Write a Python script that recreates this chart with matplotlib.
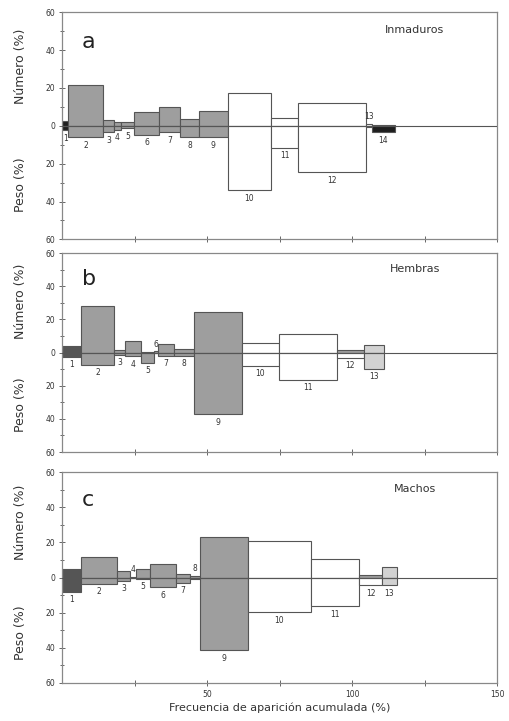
import numpy as np
import matplotlib.pyplot as plt
from matplotlib.ticker import MultipleLocator, FuncFormatter

# a - Inmaduros: frecuencia de aparicion (ancho), numero % (arriba), peso % (abajo)
fo_a = [2.1, 12.1, 3.7, 2.3, 4.6, 8.6, 7.3, 6.5, 9.8, 14.9, 9.5, 23.5, 2.0, 7.7]
num_a = [2.6, 21.5, 3.0, 2.0, 1.8, 7.4, 10.2, 3.5, 7.8, 17.5, 4.2, 11.8, 1.0, 0.5]
peso_a = [2.1, 6.0, 3.2, 2.0, 1.4, 4.6, 3.2, 6.0, 6.0, 34.0, 11.5, 24.3, 0.5, 3.5]

# b - Hembras
fo_b = [6.6, 11.1, 4.0, 5.4, 4.6, 1.2, 5.7, 6.7, 16.7, 12.6, 20.0, 9.3, 6.9]
num_b = [3.8, 27.9, 1.5, 6.8, 0.3, 0.8, 5.4, 2.2, 24.3, 5.8, 11.2, 1.8, 4.8]
peso_b = [2.6, 7.2, 1.2, 2.2, 6.2, 0.5, 1.8, 2.0, 37.3, 8.2, 16.3, 3.2, 9.8]

# c - Machos
fo_c = [6.6, 12.2, 4.6, 2.1, 4.8, 9.0, 4.6, 3.7, 16.3, 21.9, 16.4, 8.2, 4.9]
num_c = [4.9, 11.9, 4.0, 0.5, 4.9, 7.8, 2.1, 0.8, 22.9, 21.0, 10.6, 1.7, 6.2]
peso_c = [8.0, 3.6, 1.7, 0.5, 0.8, 5.5, 3.0, 0.8, 41.5, 19.7, 16.5, 4.5, 4.5]

titles = ['Inmaduros', 'Hembras', 'Machos']
letters = ['a', 'b', 'c']

# colores: k negro, d gris oscuro, g gris, w blanco, l gris claro
K, D, G, W, L = '#1e1e1e', '#555555', '#9e9e9e', 'white', '#d2d2d2'
up_a = [K, G, G, G, G, G, G, G, G, W, W, W, W, K]
dn_a = up_a
up_b = [D, G, G, G, G, G, G, G, G, W, W, G, L]
dn_b = [D, G, G, G, G, G, G, G, G, W, W, W, L]
up_c = up_b
dn_c = dn_b

# etiquetas que van encima de la barra
above_a = [13]
above_b = [6]
above_c = [4, 8]

edge = '#555555'
txt = '#333333'

fig = plt.figure(figsize=(5.1, 7.21), dpi=100)
boxes = [[0.122, 0.668, 0.853, 0.315],
         [0.122, 0.373, 0.853, 0.276],
         [0.122, 0.053, 0.853, 0.292]]

panels = [(fo_a, num_a, peso_a, up_a, dn_a, above_a),
          (fo_b, num_b, peso_b, up_b, dn_b, above_b),
          (fo_c, num_c, peso_c, up_c, dn_c, above_c)]

for k, (fo, num, peso, cu, cd, above) in enumerate(panels):
    ax = fig.add_axes(boxes[k])
    fo = np.array(fo)
    num = np.array(num)
    peso = np.array(peso)
    left = np.concatenate([[0], np.cumsum(fo)[:-1]])

    ax.bar(left, num, width=fo, align='edge', color=cu, edgecolor=edge, linewidth=0.8, zorder=2)
    ax.bar(left, -peso, width=fo, align='edge', color=cd, edgecolor=edge, linewidth=0.8, zorder=2)
    ax.axhline(0, color='#555555', linewidth=0.8, zorder=3)

    for i in range(len(fo)):
        xc = left[i] + fo[i] / 2
        if (i + 1) in above:
            ax.text(xc, num[i] + 1.5, str(i + 1), ha='center', va='bottom', fontsize=5.5, color=txt)
        else:
            ax.text(xc, -peso[i] - 2.0, str(i + 1), ha='center', va='top', fontsize=5.5, color=txt)

    ax.set_xlim(0, 150)
    ax.set_ylim(-60, 60)
    ax.yaxis.set_major_locator(MultipleLocator(20))
    ax.yaxis.set_minor_locator(MultipleLocator(10))
    ax.yaxis.set_major_formatter(FuncFormatter(lambda v, p: '%d' % abs(v)))
    ax.set_xticks([25, 50, 75, 100, 125, 150])
    if k == 2:
        ax.set_xticklabels(['', '50', '', '100', '', '150'])
        ax.set_xlabel('Frecuencia de aparición acumulada (%)', fontsize=8, color=txt, labelpad=3)
    else:
        ax.set_xticklabels([])
    ax.tick_params(axis='both', which='both', direction='inout', length=4, width=0.7,
                   colors='#666666', labelsize=5.5, labelcolor=txt, pad=3)
    ax.tick_params(axis='y', which='minor', length=3)
    for s in ax.spines.values():
        s.set_color('#888888')
        s.set_linewidth(0.9)

    ax.text(-0.097, 0.76, 'Número (%)', transform=ax.transAxes, rotation=90,
            ha='center', va='center', fontsize=9, color=txt)
    ax.text(-0.097, 0.24, 'Peso (%)', transform=ax.transAxes, rotation=90,
            ha='center', va='center', fontsize=9, color=txt)
    ax.text(0.045, 0.87, letters[k], transform=ax.transAxes, ha='left', va='center',
            fontsize=16, color='#222222')
    ax.text(0.81, 0.92, titles[k], transform=ax.transAxes, ha='center', va='center',
            fontsize=8, color=txt)

fig.savefig('out.png', dpi=100)
